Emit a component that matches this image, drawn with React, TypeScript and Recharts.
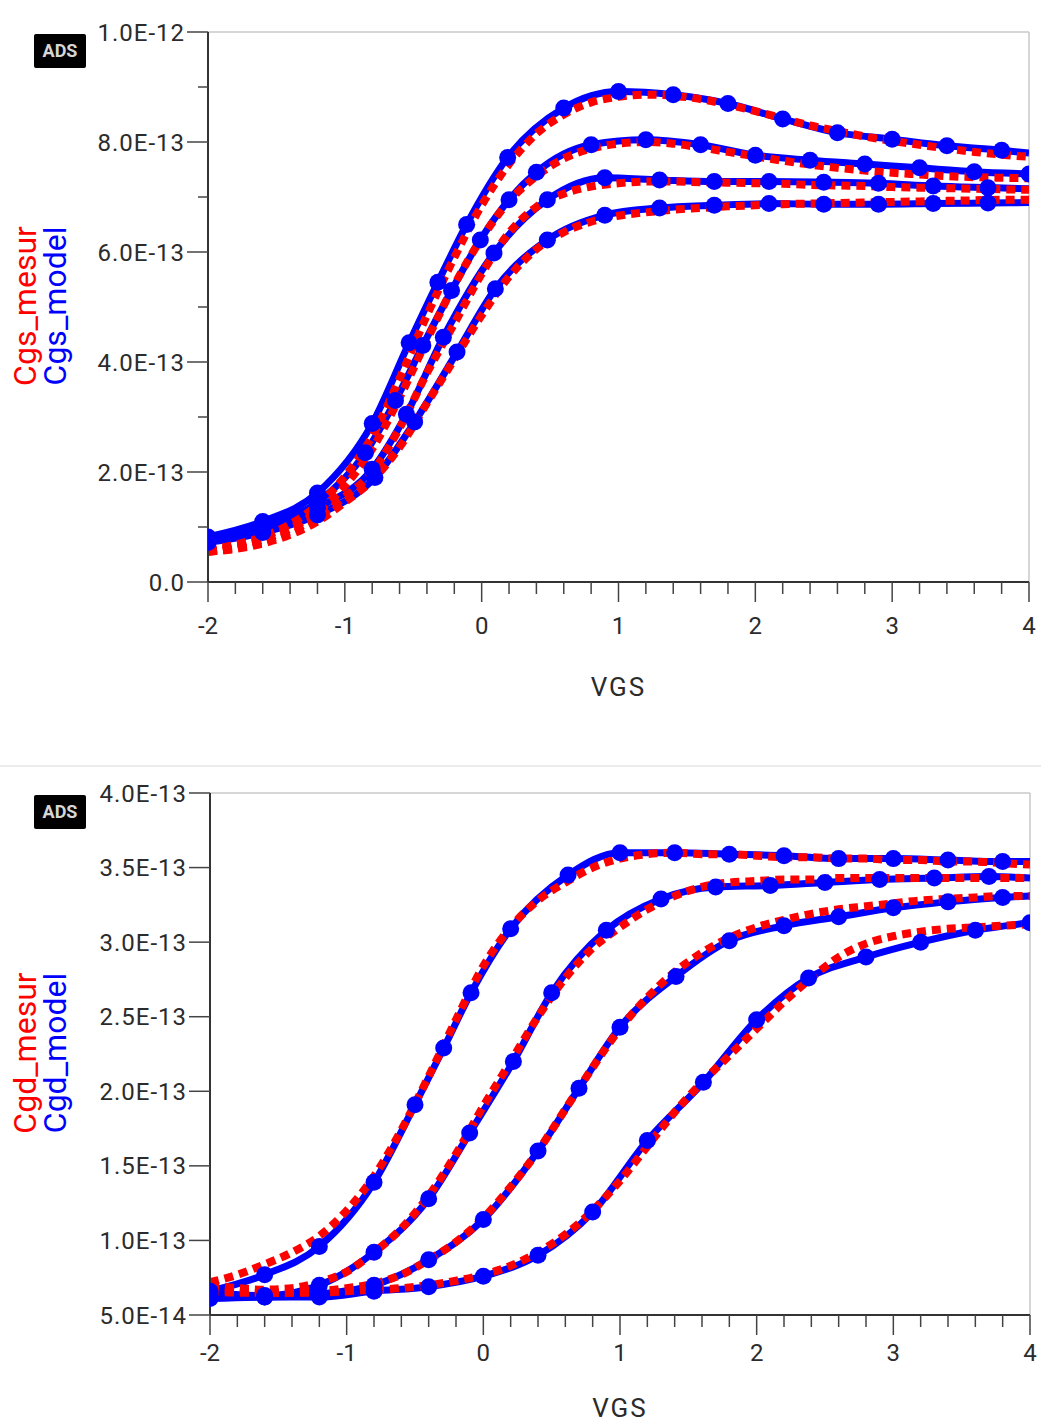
import React from "react";
import { LineChart, Line, XAxis, YAxis, CartesianGrid } from "recharts";

// capacitances are in units of 1e-13 F

const VGS = [
  -2, -1.8, -1.6, -1.4, -1.2, -1, -0.8, -0.6, -0.4, -0.2, 0, 0.2, 0.4, 0.6, 0.8,
  1, 1.2, 1.4, 1.6, 1.8, 2, 2.2, 2.4, 2.6, 2.8, 3, 3.2, 3.4, 3.6, 3.8, 4,
];
const X_GRID = [-2, -1, 0, 1, 2, 3, 4];

// ---- Cgs (top) ----
const CGS_MESUR_1 = [0.58, 0.68, 0.82, 1.05, 1.4, 1.92, 2.65, 3.7, 4.85, 5.9, 6.85, 7.6, 8.15, 8.5, 8.72, 8.82, 8.86, 8.84, 8.78, 8.68, 8.56, 8.43, 8.3, 8.2, 8.1, 8.02, 7.95, 7.88, 7.82, 7.77, 7.73];
const CGS_MESUR_2 = [0.56, 0.64, 0.77, 0.97, 1.28, 1.75, 2.42, 3.35, 4.4, 5.4, 6.25, 6.92, 7.38, 7.7, 7.88, 7.97, 8.0, 7.97, 7.9, 7.82, 7.74, 7.66, 7.59, 7.53, 7.48, 7.44, 7.41, 7.38, 7.36, 7.35, 7.34];
const CGS_MESUR_3 = [0.55, 0.62, 0.74, 0.92, 1.18, 1.55, 2.0, 2.8, 3.8, 4.7, 5.6, 6.35, 6.82, 7.06, 7.19, 7.25, 7.28, 7.28, 7.27, 7.26, 7.25, 7.24, 7.22, 7.21, 7.2, 7.18, 7.17, 7.16, 7.15, 7.14, 7.13];
const CGS_MESUR_4 = [0.55, 0.6, 0.7, 0.86, 1.1, 1.45, 1.85, 2.45, 3.25, 4.05, 4.85, 5.55, 6.05, 6.36, 6.55, 6.66, 6.72, 6.77, 6.8, 6.83, 6.85, 6.87, 6.88, 6.89, 6.9, 6.91, 6.92, 6.93, 6.94, 6.95, 6.95];

const CGS_MODEL_1_VGS = [-2, -1.6, -1.2, -0.8, -0.53, -0.32, -0.11, 0.19, 0.6, 1, 1.4, 1.8, 2.2, 2.6, 3, 3.4, 3.8, 4];
const CGS_MODEL_1 = [0.82, 1.1, 1.62, 2.88, 4.35, 5.45, 6.5, 7.72, 8.62, 8.92, 8.86, 8.7, 8.42, 8.17, 8.05, 7.93, 7.85, 7.8];
const CGS_MODEL_2_VGS = [-2, -1.6, -1.2, -0.85, -0.63, -0.43, -0.22, -0.01, 0.2, 0.4, 0.8, 1.2, 1.6, 2, 2.4, 2.8, 3.2, 3.6, 4];
const CGS_MODEL_2 = [0.78, 1.02, 1.45, 2.35, 3.3, 4.3, 5.3, 6.22, 6.95, 7.45, 7.95, 8.04, 7.95, 7.76, 7.67, 7.6, 7.53, 7.46, 7.42];
const CGS_MODEL_3_VGS = [-2, -1.6, -1.2, -0.8, -0.55, -0.28, 0.09, 0.48, 0.9, 1.3, 1.7, 2.1, 2.5, 2.9, 3.3, 3.7, 4];
const CGS_MODEL_3 = [0.75, 0.97, 1.35, 2.05, 3.05, 4.45, 5.98, 6.95, 7.35, 7.31, 7.28, 7.28, 7.27, 7.25, 7.2, 7.17, 7.15];
const CGS_MODEL_4_VGS = [-2, -1.6, -1.2, -0.78, -0.49, -0.18, 0.1, 0.48, 0.9, 1.3, 1.7, 2.1, 2.5, 2.9, 3.3, 3.7, 4];
const CGS_MODEL_4 = [0.72, 0.9, 1.22, 1.9, 2.91, 4.18, 5.33, 6.22, 6.67, 6.8, 6.85, 6.88, 6.87, 6.87, 6.88, 6.89, 6.9];

const CGS_TICKS = [0, 1, 2, 3, 4, 5, 6, 7, 8, 9, 10];
const CGS_GRID = [0, 2, 4, 6, 8, 10];

// ---- Cgd (bottom) ----
const CGD_MESUR_1 = [0.72, 0.77, 0.84, 0.92, 1.03, 1.2, 1.43, 1.74, 2.1, 2.48, 2.84, 3.1, 3.28, 3.4, 3.5, 3.56, 3.59, 3.6, 3.59, 3.59, 3.58, 3.57, 3.57, 3.56, 3.56, 3.55, 3.55, 3.54, 3.54, 3.53, 3.52];
const CGD_MESUR_2 = [0.7, 0.68, 0.67, 0.68, 0.72, 0.79, 0.92, 1.08, 1.3, 1.58, 1.9, 2.2, 2.5, 2.76, 2.96, 3.1, 3.22, 3.31, 3.37, 3.4, 3.41, 3.42, 3.42, 3.43, 3.43, 3.43, 3.43, 3.43, 3.43, 3.43, 3.43];
const CGD_MESUR_3 = [0.68, 0.66, 0.65, 0.65, 0.66, 0.68, 0.71, 0.77, 0.87, 0.99, 1.15, 1.36, 1.6, 1.88, 2.16, 2.42, 2.63, 2.8, 2.93, 3.03, 3.1, 3.15, 3.19, 3.22, 3.24, 3.26, 3.28, 3.29, 3.3, 3.31, 3.31];
const CGD_MESUR_4 = [0.66, 0.65, 0.65, 0.65, 0.65, 0.66, 0.67, 0.68, 0.7, 0.73, 0.77, 0.83, 0.92, 1.04, 1.2, 1.4, 1.63, 1.86, 2.06, 2.24, 2.42, 2.6, 2.76, 2.9, 2.99, 3.04, 3.07, 3.09, 3.1, 3.11, 3.12];

const CGD_MODEL_1_VGS = [-2, -1.6, -1.2, -0.8, -0.5, -0.29, -0.09, 0.2, 0.62, 1, 1.4, 1.8, 2.2, 2.6, 3, 3.4, 3.8, 4];
const CGD_MODEL_1 = [0.66, 0.77, 0.96, 1.39, 1.91, 2.29, 2.66, 3.09, 3.45, 3.6, 3.6, 3.59, 3.58, 3.56, 3.56, 3.55, 3.54, 3.54];
const CGD_MODEL_2_VGS = [-2, -1.6, -1.2, -0.8, -0.4, -0.1, 0.22, 0.5, 0.9, 1.3, 1.7, 2.1, 2.5, 2.9, 3.3, 3.7, 4];
const CGD_MODEL_2 = [0.65, 0.63, 0.7, 0.92, 1.28, 1.72, 2.2, 2.66, 3.08, 3.29, 3.37, 3.38, 3.4, 3.42, 3.43, 3.44, 3.43];
const CGD_MODEL_3_VGS = [-2, -1.6, -1.2, -0.8, -0.4, 0, 0.4, 0.7, 1, 1.41, 1.8, 2.2, 2.6, 3, 3.4, 3.8, 4];
const CGD_MODEL_3 = [0.63, 0.62, 0.64, 0.7, 0.87, 1.14, 1.6, 2.02, 2.43, 2.77, 3.01, 3.11, 3.17, 3.23, 3.27, 3.3, 3.31];
const CGD_MODEL_4_VGS = [-2, -1.6, -1.2, -0.8, -0.4, 0, 0.4, 0.8, 1.2, 1.61, 2, 2.38, 2.8, 3.2, 3.6, 4];
const CGD_MODEL_4 = [0.61, 0.62, 0.62, 0.66, 0.69, 0.76, 0.9, 1.19, 1.67, 2.06, 2.48, 2.76, 2.9, 3.0, 3.08, 3.13];

const CGD_TICKS = [0.5, 1, 1.5, 2, 2.5, 3, 3.5, 4];

const BLUE = "#0000ff";
const RED = "#ff0000";
const INK = "#2b2b2b";
const FONT = "Roboto, sans-serif";

const isInt = (v: number) => Math.abs(v - Math.round(v)) < 1e-9;
const sci = (v: number) =>
  v === 0 ? "0.0" : (v * 1e-13).toExponential(1).toUpperCase();
const zip = (xs: number[], ys: number[]) => xs.map((x, i) => ({ x, c: ys[i] }));

type Model = { vgs: number[]; c: number[]; endDot: boolean };

type PanelProps = {
  top: number;
  height: number;
  marginTop: number;
  marginRight: number;
  yWidth: number;
  xHeight: number;
  yDomain: [number, number];
  yTicks: number[];
  yGrid: number[];
  isMajor: (v: number) => boolean;
  models: Model[];
  mesur: number[][];
  xLabelDy: number;
  titleOffset: number;
};

function Panel(p: PanelProps) {
  const xTick = ({ x, y, payload }: any) => {
    const v = payload.value;
    const major = isInt(v);
    return (
      <g>
        <line x1={x} x2={x} y1={y} y2={y + (major ? 20 : 12)} stroke="#444" strokeWidth={1.5} />
        {major && (
          <text x={x} y={y + p.xLabelDy} textAnchor="middle" fill={INK}
            style={{ fontFamily: FONT, fontSize: 24 }}>
            {String(Math.round(v))}
          </text>
        )}
      </g>
    );
  };

  const yTick = ({ x, y, payload }: any) => {
    const v = payload.value;
    const major = p.isMajor(v);
    return (
      <g>
        <line x1={x - (major ? 21 : 10)} x2={x} y1={y} y2={y} stroke="#444" strokeWidth={1.5} />
        {major && (
          <text x={x - 23} y={y + 8.5} textAnchor="end" fill={INK}
            style={{ fontFamily: FONT, fontSize: 24, letterSpacing: 1 }}>
            {sci(v)}
          </text>
        )}
      </g>
    );
  };

  const makeDot = (endDot: boolean) => (props: any) => {
    const { cx, cy, index, payload } = props;
    if (!endDot && payload.x === 4) return <g key={`d${index}`} />;
    return <circle key={`d${index}`} cx={cx} cy={cy} r={8.5} fill={BLUE} />;
  };

  return (
    <div style={{ position: "absolute", left: 0, top: p.top }}>
      <LineChart
        width={1041}
        height={p.height}
        margin={{ top: p.marginTop, right: p.marginRight, left: 0, bottom: 0 }}
      >
        <CartesianGrid xAxisId="frame" yAxisId="frame" stroke="#c8c8c8" strokeWidth={1.5} />
        <XAxis
          dataKey="x"
          type="number"
          domain={[-2, 4]}
          allowDataOverflow
          ticks={VGS}
          interval={0}
          height={p.xHeight}
          tickSize={0}
          tickMargin={0}
          tickLine={false}
          tick={xTick}
          axisLine={{ stroke: "#333", strokeWidth: 2 }}
          label={{
            value: "VGS",
            position: "insideBottom",
            offset: p.titleOffset,
            fill: INK,
            style: { fontFamily: FONT, fontSize: 26, letterSpacing: 2 },
          }}
        />
        <XAxis
          xAxisId="frame"
          orientation="top"
          type="number"
          domain={[-2, 4]}
          allowDataOverflow
          ticks={X_GRID}
          interval={0}
          height={0}
          tick={false}
          tickLine={false}
          axisLine={{ stroke: "#333", strokeWidth: 2 }}
        />
        <YAxis
          type="number"
          domain={p.yDomain}
          allowDataOverflow
          ticks={p.yTicks}
          interval={0}
          width={p.yWidth}
          tickSize={0}
          tickMargin={0}
          tickLine={false}
          tick={yTick}
          axisLine={{ stroke: "#333", strokeWidth: 2 }}
        />
        <YAxis
          yAxisId="frame"
          orientation="right"
          type="number"
          domain={p.yDomain}
          allowDataOverflow
          ticks={p.yGrid}
          interval={0}
          width={0}
          tick={false}
          tickLine={false}
          axisLine={{ stroke: "#333", strokeWidth: 2 }}
        />
        {p.models.map((m, i) => (
          <Line
            key={`model${i}`}
            data={zip(m.vgs, m.c)}
            dataKey="c"
            type="monotone"
            stroke={BLUE}
            strokeWidth={7}
            dot={makeDot(m.endDot)}
            activeDot={false}
            isAnimationActive={false}
          />
        ))}
        {p.mesur.map((c, i) => (
          <Line
            key={`mesur${i}`}
            data={zip(VGS, c)}
            dataKey="c"
            type="monotone"
            stroke={RED}
            strokeWidth={8}
            strokeDasharray="9 6"
            dot={false}
            activeDot={false}
            isAnimationActive={false}
          />
        ))}
      </LineChart>
    </div>
  );
}

function Badge({ top }: { top: number }) {
  return (
    <div
      style={{
        position: "absolute",
        left: 34,
        top,
        width: 52,
        height: 34,
        background: "#000",
        borderRadius: 2,
        color: "#d6d6d6",
        fontFamily: FONT,
        fontWeight: 700,
        fontSize: 18,
        lineHeight: "34px",
        textAlign: "center",
      }}
    >
      ADS
    </div>
  );
}

function YLabel({ text, color, x, y }: { text: string; color: string; x: number; y: number }) {
  return (
    <div
      style={{
        position: "absolute",
        left: x,
        top: y,
        transform: "translate(-50%, -50%) rotate(-90deg)",
        color,
        fontFamily: FONT,
        fontSize: 32,
        lineHeight: 1,
        whiteSpace: "nowrap",
      }}
    >
      {text}
    </div>
  );
}

export default function App() {
  return (
    <div
      style={{
        position: "absolute",
        left: 0,
        top: 0,
        width: 1041,
        height: 1426,
        background: "#fff",
        overflow: "hidden",
      }}
    >
      <Panel
        top={0}
        height={720}
        marginTop={32}
        marginRight={12}
        yWidth={208}
        xHeight={138}
        yDomain={[0, 10]}
        yTicks={CGS_TICKS}
        yGrid={CGS_GRID}
        isMajor={(v) => v % 2 === 0}
        models={[
          { vgs: CGS_MODEL_1_VGS, c: CGS_MODEL_1, endDot: false },
          { vgs: CGS_MODEL_2_VGS, c: CGS_MODEL_2, endDot: true },
          { vgs: CGS_MODEL_3_VGS, c: CGS_MODEL_3, endDot: false },
          { vgs: CGS_MODEL_4_VGS, c: CGS_MODEL_4, endDot: false },
        ]}
        mesur={[CGS_MESUR_1, CGS_MESUR_2, CGS_MESUR_3, CGS_MESUR_4]}
        xLabelDy={52}
        titleOffset={24}
      />
      <div style={{ position: "absolute", left: 0, top: 765, width: 1041, height: 2, background: "#ececec" }} />
      <Panel
        top={765}
        height={661}
        marginTop={28}
        marginRight={11}
        yWidth={210}
        xHeight={111}
        yDomain={[0.5, 4]}
        yTicks={CGD_TICKS}
        yGrid={CGD_TICKS}
        isMajor={() => true}
        models={[
          { vgs: CGD_MODEL_1_VGS, c: CGD_MODEL_1, endDot: false },
          { vgs: CGD_MODEL_2_VGS, c: CGD_MODEL_2, endDot: false },
          { vgs: CGD_MODEL_3_VGS, c: CGD_MODEL_3, endDot: false },
          { vgs: CGD_MODEL_4_VGS, c: CGD_MODEL_4, endDot: true },
        ]}
        mesur={[CGD_MESUR_1, CGD_MESUR_2, CGD_MESUR_3, CGD_MESUR_4]}
        xLabelDy={46}
        titleOffset={9}
      />
      <Badge top={34} />
      <Badge top={795} />
      <YLabel text="Cgs_mesur" color={RED} x={25} y={306} />
      <YLabel text="Cgs_model" color={BLUE} x={55} y={306} />
      <YLabel text="Cgd_mesur" color={RED} x={25} y={1053} />
      <YLabel text="Cgd_model" color={BLUE} x={55} y={1053} />
    </div>
  );
}
